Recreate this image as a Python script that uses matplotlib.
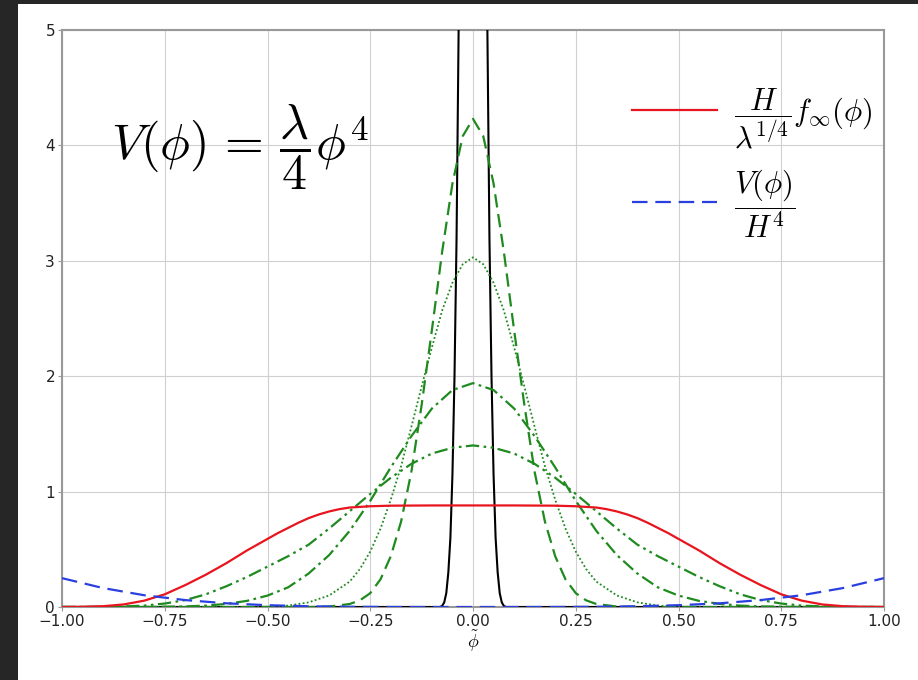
import numpy as np
import matplotlib
matplotlib.use("Agg")
import matplotlib.pyplot as plt
from matplotlib.patches import Rectangle

plt.rcParams['mathtext.fontset'] = 'cm'
plt.rcParams['axes.unicode_minus'] = True

# ---------------- data (positive half; curves are symmetric) -------------
# red: H / lambda^{1/4} f_inf(phi)
x_red = [0.0, 0.1, 0.2, 0.25, 0.3, 0.325, 0.35, 0.375, 0.4, 0.425, 0.45, 0.475, 0.5, 0.55, 0.6,
         0.65, 0.7, 0.75, 0.8, 0.85, 0.9, 0.95, 1.0]
y_red = [0.88, 0.88, 0.878, 0.873, 0.862, 0.848, 0.828, 0.802, 0.77, 0.73, 0.685, 0.64, 0.59, 0.49, 0.38,
         0.28, 0.19, 0.11, 0.055, 0.022, 0.007, 0.002, 0.0]

# blue dashed: V(phi) / H^4
x_blue = [0.0, 0.1, 0.2, 0.3, 0.4, 0.5, 0.6, 0.7, 0.8, 0.9, 1.0]
y_blue = [0.0, 0.0, 0.0004, 0.002, 0.0064, 0.0156, 0.032, 0.06, 0.102, 0.164, 0.25]

# black solid: narrow initial distribution
x_black = [0.0, 0.01, 0.02, 0.025, 0.03, 0.035, 0.04, 0.045, 0.05, 0.055, 0.06, 0.065, 0.07, 0.075, 0.08, 1.0]
y_black = [18.0, 16.5, 12.5, 10.0, 7.5, 5.0, 3.2, 2.0, 1.15, 0.6, 0.3, 0.12, 0.04, 0.01, 0.0, 0.0]

# green dashed (peak ~4.23)
x_g1 = [0.0, 0.025, 0.05, 0.075, 0.1, 0.125, 0.15, 0.175, 0.2, 0.225, 0.25, 0.275, 0.3, 0.35, 0.4, 1.0]
y_g1 = [4.23, 4.08, 3.67, 3.08, 2.40, 1.75, 1.17, 0.74, 0.44, 0.24, 0.12, 0.058, 0.026, 0.004, 0.0, 0.0]

# green dotted (peak ~3.03)
x_g2 = [0.0, 0.025, 0.05, 0.075, 0.1, 0.125, 0.15, 0.175, 0.2, 0.225, 0.25, 0.275, 0.3, 0.35, 0.4, 0.45, 0.5, 0.6, 1.0]
y_g2 = [3.03, 2.97, 2.81, 2.57, 2.25, 1.91, 1.56, 1.22, 0.93, 0.68, 0.48, 0.33, 0.22, 0.10, 0.04, 0.012, 0.003, 0.0, 0.0]

# green dash-dot (peak ~1.94)
x_g3 = [0.0, 0.05, 0.1, 0.15, 0.2, 0.25, 0.3, 0.35, 0.4, 0.45, 0.5, 0.55, 0.6, 0.65, 0.7, 0.8, 1.0]
y_g3 = [1.94, 1.88, 1.72, 1.48, 1.21, 0.92, 0.66, 0.45, 0.29, 0.17, 0.099, 0.053, 0.027, 0.012, 0.005, 0.0, 0.0]

# green dash-dot-dot (peak ~1.40)
x_g4 = [0.0, 0.05, 0.1, 0.15, 0.2, 0.25, 0.3, 0.35, 0.4, 0.45, 0.5, 0.55, 0.6, 0.65, 0.7, 0.75, 0.8, 0.85, 0.9, 1.0]
y_g4 = [1.40, 1.38, 1.33, 1.24, 1.12, 0.98, 0.83, 0.68, 0.54, 0.44, 0.35, 0.26, 0.18, 0.11, 0.06, 0.03, 0.012, 0.005, 0.0, 0.0]

x_ticks = [-1.0, -0.75, -0.5, -0.25, 0.0, 0.25, 0.5, 0.75, 1.0]
y_ticks = [0, 1, 2, 3, 4, 5]

legend_labels = [r'$\dfrac{H}{\lambda^{1/4}}f_{\infty}(\phi)$', r'$\dfrac{V(\phi)}{H^4}$']
equation = r'$V(\phi)\,=\,\dfrac{\lambda}{4}\phi^4$'
x_label = r'$\tilde{\phi}$'


def mirror(xs, ys):
    xs = np.asarray(xs, float)
    ys = np.asarray(ys, float)
    return np.concatenate([-xs[:0:-1], xs]), np.concatenate([ys[:0:-1], ys])


# ---------------- figure ----------------
fig = plt.figure(figsize=(9.18, 6.8), dpi=100, facecolor='white')
# dark frame around the white canvas (left and top strips)
fig.patches.append(Rectangle((0, 0), 18 / 918, 1, transform=fig.transFigure,
                             facecolor='#262626', edgecolor='none', zorder=-5))
fig.patches.append(Rectangle((0, 1 - 4 / 680), 1, 4 / 680, transform=fig.transFigure,
                             facecolor='#262626', edgecolor='none', zorder=-5))
ax = fig.add_axes([62 / 918, 1 - 607 / 680, (884 - 62) / 918, (607 - 30) / 680])
ax.set_facecolor('white')

green = '#1f8a1f'
xb, yb = mirror(x_black, y_black)
ax.plot(xb, yb, color='black', lw=1.5, zorder=3)
x1, y1 = mirror(x_g1, y_g1)
ax.plot(x1, y1, color=green, lw=1.6, dashes=(6, 3), zorder=3)
x2, y2 = mirror(x_g2, y_g2)
ax.plot(x2, y2, color=green, lw=1.3, dashes=(1, 1.3), zorder=3)
x3, y3 = mirror(x_g3, y_g3)
ax.plot(x3, y3, color=green, lw=1.6, dashes=(6, 2, 1.2, 2), zorder=3)
x4, y4 = mirror(x_g4, y_g4)
ax.plot(x4, y4, color=green, lw=1.6, dashes=(6, 2, 1.2, 2, 1.2, 2), zorder=3)
xr, yr = mirror(x_red, y_red)
lr, = ax.plot(xr, yr, color='#e8141e', lw=1.6, zorder=4, label=legend_labels[0])
xbl, ybl = mirror(x_blue, y_blue)
lb, = ax.plot(xbl, ybl, color='#2a3fe0', lw=1.6, dashes=(7, 3.5), zorder=4, label=legend_labels[1])

ax.set_xlim(-1, 1)
ax.set_ylim(0, 5)
ax.set_xticks(x_ticks)
ax.set_xticklabels([f'{v:.2f}'.replace('-', '\u2212') for v in x_ticks])
ax.set_yticks(y_ticks)
ax.set_yticklabels([str(v) for v in y_ticks])
ax.tick_params(labelsize=11, colors='#222222', length=3, width=0.8, pad=2)
ax.tick_params(axis='both', color='#999999')
ax.grid(True, color='#d0d0d0', lw=0.8)
for s in ax.spines.values():
    s.set_color('#999999')
    s.set_linewidth(1.5)
ax.set_xlabel(x_label, fontsize=13, labelpad=0)

ax.text(0.2165, 0.797, equation, transform=ax.transAxes, fontsize=36,
        ha='center', va='center')

leg = ax.legend(handles=[lr, lb], loc='upper right', bbox_to_anchor=(1.012, 0.94),
                frameon=False, fontsize=22, handlelength=2.8, labelspacing=0.55,
                handletextpad=0.55, borderaxespad=0.3)

fig.savefig('out.png', dpi=100, facecolor=fig.get_facecolor())
